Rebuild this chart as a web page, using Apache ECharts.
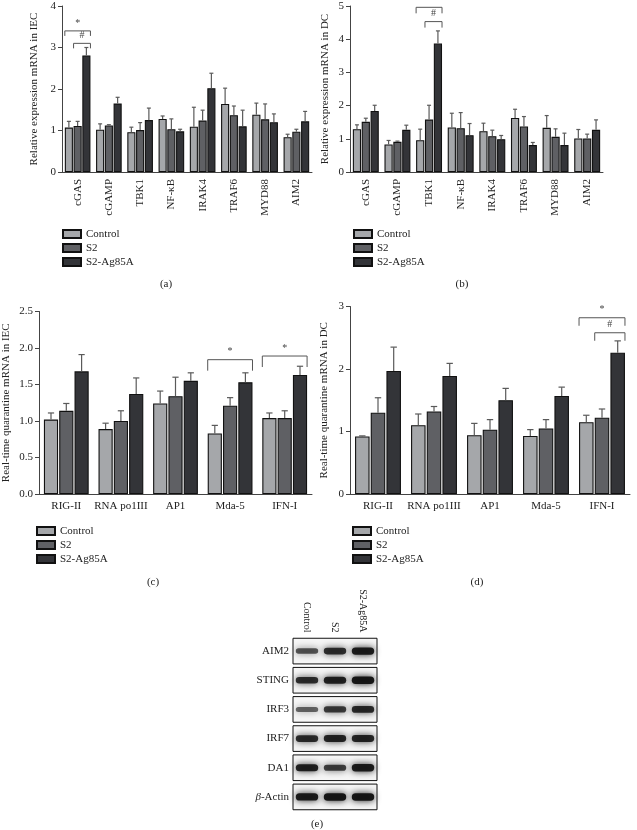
<!DOCTYPE html>
<html><head><meta charset="utf-8">
<script src="https://cdn.jsdelivr.net/npm/echarts@6/dist/echarts.min.js"></script>
<style>html,body{margin:0;padding:0;background:#fff}#c{width:637px;height:830px}</style>
</head><body><div id="c"></div>
<script>
// ---------- DATA ----------
const groupNames = ['Control', 'S2', 'S2-Ag85A'];

// (a) IEC
const catsA = ['cGAS', 'cGAMP', 'TBK1', 'NF-κB', 'IRAK4', 'TRAF6', 'MYD88', 'AIM2'];
const ctrlA = [1.07, 1.02, 0.96, 1.28, 1.09, 1.64, 1.38, 0.84];
const s2A   = [1.11, 1.12, 1.01, 1.03, 1.24, 1.37, 1.27, 0.97];
const agA   = [2.81, 1.65, 1.25, 0.98, 2.02, 1.10, 1.20, 1.22];
const ctrlAErr = [1.22, 1.16, 1.08, 1.35, 1.56, 2.02, 1.66, 0.91];
const s2AErr   = [1.22, 1.14, 1.19, 1.28, 1.49, 1.59, 1.64, 1.03];
const agAErr   = [3.00, 1.80, 1.54, 1.03, 2.38, 1.49, 1.40, 1.46];
const sigA = [[0, 0, 2, 3.40, '*'], [0, 1, 2, 3.10, '#']];
const ticksA = [0, 1, 2, 3, 4];

// (b) DC
const catsB = ['cGAS', 'cGAMP', 'TBK1', 'NF-κB', 'IRAK4', 'TRAF6', 'MYD88', 'AIM2'];
const ctrlB = [1.29, 0.83, 0.96, 1.34, 1.23, 1.63, 1.33, 1.01];
const s2B   = [1.51, 0.91, 1.58, 1.32, 1.08, 1.37, 1.06, 1.01];
const agB   = [1.84, 1.27, 3.87, 1.11, 0.99, 0.81, 0.81, 1.27];
const ctrlBErr = [1.42, 0.95, 1.29, 1.77, 1.47, 1.89, 1.70, 1.28];
const s2BErr   = [1.62, 0.93, 2.01, 1.79, 1.26, 1.67, 1.30, 1.14];
const agBErr   = [2.01, 1.41, 4.25, 1.46, 1.10, 0.89, 1.17, 1.57];
const sigB = [[2, 0, 2, 4.96, '*'], [2, 1, 2, 4.53, '#']];
const ticksB = [0, 1, 2, 3, 4, 5];

// (c) IEC
const catsC = ['RIG-II', 'RNA po1III', 'AP1', 'Mda-5', 'IFN-I'];
const ctrlC = [1.02, 0.89, 1.24, 0.83, 1.04];
const s2C   = [1.14, 1.00, 1.34, 1.21, 1.04];
const agC   = [1.68, 1.37, 1.55, 1.53, 1.63];
const ctrlCErr = [1.11, 0.97, 1.41, 0.94, 1.11];
const s2CErr   = [1.24, 1.14, 1.60, 1.32, 1.14];
const agCErr   = [1.91, 1.59, 1.66, 1.66, 1.75];
const sigC = [[3, 0, 2, 1.84, '*'], [4, 0, 2, 1.89, '*']];
const ticksC = [0, 0.5, 1.0, 1.5, 2.0, 2.5];

// (d) DC
const catsD = ['RIG-II', 'RNA po1III', 'AP1', 'Mda-5', 'IFN-I'];
const ctrlD = [0.92, 1.10, 0.94, 0.93, 1.15];
const s2D   = [1.30, 1.32, 1.03, 1.05, 1.22];
const agD   = [1.97, 1.89, 1.50, 1.57, 2.26];
const ctrlDErr = [0.93, 1.28, 1.13, 1.03, 1.26];
const s2DErr   = [1.54, 1.40, 1.19, 1.19, 1.36];
const agDErr   = [2.35, 2.09, 1.69, 1.71, 2.45];
const sigD = [[4, 0, 2, 2.82, '*'], [4, 1, 2, 2.58, '#']];
const ticksD = [0, 1, 2, 3];

// (e) Western blot: relative band intensity per lane
const blotProteins = ['AIM2', 'STING', 'IRF3', 'IRF7', 'DA1', 'β-Actin'];
const blotLanes = ['Control', 'S2', 'S2-Ag85A'];
const bandAIM2  = [0.55, 0.80, 0.95];
const bandSTING = [0.80, 0.90, 1.00];
const bandIRF3  = [0.45, 0.72, 0.85];
const bandIRF7  = [0.82, 0.88, 0.88];
const bandDA1   = [0.90, 0.70, 0.95];
const bandActin = [0.95, 1.00, 1.00];

// ---------- STYLE ----------
const FONT = 'Liberation Serif';
const COLORS = ['#a5a7aa', '#5f6064', '#333438'];
const CAT_GAP = 0.18, BAR_GAP = 0.08;
const AXIS_COLOR = '#444';

function barGeom(api, cat, idx) {
  const B = api.size([1, 0])[0];
  const avail = B * (1 - CAT_GAP);
  const w = avail / (3 + 2 * BAR_GAP);
  const c = api.coord([cat, 0])[0];
  return { x: c - avail / 2 + idx * w * (1 + BAR_GAP) + w / 2, w: w };
}

const panels = [
  { cats: catsA, vals: [ctrlA, s2A, agA], errs: [ctrlAErr, s2AErr, agAErr], sig: sigA, ticks: ticksA, rotate: true,
    grid: { left: 62, top: 6, width: 250, height: 166 }, name: 'Relative expression mRNA in IEC', nameGap: 22, leg: 5, dec: 0 },
  { cats: catsB, vals: [ctrlB, s2B, agB], errs: [ctrlBErr, s2BErr, agBErr], sig: sigB, ticks: ticksB, rotate: true,
    grid: { left: 350, top: 6, width: 253, height: 166 }, name: 'Relative expression mRNA in DC', nameGap: 19, leg: 6, dec: 0 },
  { cats: catsC, vals: [ctrlC, s2C, agC], errs: [ctrlCErr, s2CErr, agCErr], sig: sigC, ticks: ticksC, rotate: false,
    grid: { left: 35, top: 311.5, width: 277, height: 182.5 }, name: 'Real-time quarantine mRNA in IEC', nameGap: 27, leg: 11, dec: 1 },
  { cats: catsD, vals: [ctrlD, s2D, agD], errs: [ctrlDErr, s2DErr, agDErr], sig: sigD, ticks: ticksD, rotate: false,
    grid: { left: 350, top: 306.5, width: 280, height: 187.5 }, name: 'Real-time quarantine mRNA in DC', nameGap: 20, leg: 8, dec: 0 }
];

const grids = [], xAxes = [], yAxes = [], series = [];
panels.forEach((p, pi) => {
  grids.push(Object.assign({ containLabel: false }, p.grid));
  xAxes.push({
    type: 'category', gridIndex: pi, data: p.cats,
    axisLine: { lineStyle: { color: AXIS_COLOR, width: 1 } },
    axisTick: { alignWithLabel: true, length: 4, lineStyle: { color: AXIS_COLOR } },
    axisLabel: { interval: 0, rotate: p.rotate ? 90 : 0, margin: 7, fontFamily: FONT, fontSize: 11, color: '#222' }
  });
  const tk = p.ticks;
  yAxes.push({
    type: 'value', gridIndex: pi, min: tk[0], max: tk[tk.length - 1], interval: tk[1] - tk[0],
    name: p.name, nameLocation: 'middle', nameGap: p.nameGap,
    nameTextStyle: { fontFamily: FONT, fontSize: 11, color: '#222' },
    axisLine: { show: true, lineStyle: { color: AXIS_COLOR, width: 1 } },
    axisTick: { show: true, length: 4, lineStyle: { color: AXIS_COLOR } },
    axisLabel: { margin: 6, fontFamily: FONT, fontSize: 11, color: '#222', formatter: v => v.toFixed(p.dec) },
    splitLine: { show: false }
  });
  p.vals.forEach((arr, k) => {
    series.push({
      type: 'bar', name: groupNames[k], xAxisIndex: pi, yAxisIndex: pi, data: arr,
      barGap: (BAR_GAP * 100) + '%', barCategoryGap: (CAT_GAP * 100) + '%',
      itemStyle: { color: COLORS[k], borderColor: '#111', borderWidth: 1.1 },
      emphasis: { disabled: true }
    });
  });
  // error bars
  const errData = [];
  p.cats.forEach((c, i) => { for (let k = 0; k < 3; k++) errData.push([i, k, p.vals[k][i], p.errs[k][i]]); });
  series.push({
    type: 'custom', name: 'err' + pi, xAxisIndex: pi, yAxisIndex: pi, data: errData, silent: true, z: 3,
    encode: { x: 0, y: 3 },
    renderItem: function (params, api) {
      const g = barGeom(api, api.value(0), api.value(1));
      const y0 = api.coord([0, api.value(2)])[1];
      const y1 = api.coord([0, api.value(3)])[1];
      const cap = Math.max(2, g.w * 0.22);
      return {
        type: 'group', children: [
          { type: 'line', shape: { x1: g.x, y1: y0, x2: g.x, y2: y1 }, style: { stroke: '#5a5a5a', lineWidth: 1.2 } },
          { type: 'line', shape: { x1: g.x - cap, y1: y1, x2: g.x + cap, y2: y1 }, style: { stroke: '#5a5a5a', lineWidth: 1.2 } }
        ]
      };
    }
  });
  // significance brackets
  const sig = p.sig;
  series.push({
    type: 'custom', name: 'sig' + pi, xAxisIndex: pi, yAxisIndex: pi, silent: true, z: 4,
    data: sig.map(s => [s[0], s[1], s[2], s[3]]), encode: { x: 0, y: 3 }, clip: false,
    renderItem: function (params, api) {
      const a = barGeom(api, api.value(0), api.value(1));
      const b = barGeom(api, api.value(0), api.value(2));
      const x1 = a.x - a.w / 2, x2 = b.x + b.w / 2;
      const y = api.coord([0, api.value(3)])[1];
      return {
        type: 'group', children: [
          { type: 'polyline', shape: { points: [[x1, y + p.leg], [x1, y], [x2, y], [x2, y + p.leg]] }, style: { stroke: '#555', lineWidth: 1, fill: null } },
          { type: 'text', x: (x1 + x2) / 2, y: y - 3, style: { text: sig[params.dataIndex][4], fontFamily: FONT, fontSize: 10, fill: '#444', align: 'center', verticalAlign: 'bottom' } }
        ]
      };
    }
  });
});

// Western blot grid
const bandRows = [bandAIM2, bandSTING, bandIRF3, bandIRF7, bandDA1, bandActin];
const blotData = [];
bandRows.forEach((row, r) => row.forEach((v, l) => blotData.push([l, r, v])));
const gi = grids.length;
grids.push({ left: 293, top: 636.5, width: 84, height: 175 });
xAxes.push({
  type: 'category', gridIndex: gi, data: blotLanes, position: 'top',
  axisLine: { show: false }, axisTick: { show: false },
  axisLabel: { interval: 0, rotate: 90, margin: 4, fontFamily: FONT, fontSize: 10, color: '#222' }
});
yAxes.push({
  type: 'category', gridIndex: gi, data: blotProteins, inverse: true,
  axisLine: { show: false }, axisTick: { show: false },
  axisLabel: {
    interval: 0, margin: 4, fontFamily: FONT, fontSize: 11, color: '#222',
    formatter: v => v.indexOf('β') === 0 ? '{i|β}' + v.slice(1) : v,
    rich: { i: { fontFamily: FONT, fontSize: 11, fontStyle: 'italic', color: '#222' } }
  }
});
series.push({
  type: 'custom', name: 'blot', xAxisIndex: gi, yAxisIndex: gi, data: blotData, silent: true,
  encode: { x: 0, y: 1 },
  renderItem: function (params, api) {
    const lane = api.value(0), row = api.value(1), v = api.value(2);
    const c = api.coord([lane, row]);
    const sz = api.size([1, 1]);
    const cs = params.coordSys;
    const children = [];
    const bh = sz[1] * 0.88;
    if (lane === 0) {
      children.push({ type: 'rect', shape: { x: cs.x, y: c[1] - bh / 2, width: cs.width, height: bh },
        style: { fill: '#f6f6f6', stroke: '#111', lineWidth: 1 } });
    }
    const h = 3 + 4.5 * v;
    const w = sz[0] * 0.8;
    children.push({ type: 'rect', shape: { x: c[0] - w / 2, y: c[1] - h / 2, width: w, height: h, r: h / 2 },
      style: { fill: 'rgba(15,15,15,' + (0.3 + 0.65 * v).toFixed(2) + ')', shadowBlur: 7, shadowColor: 'rgba(0,0,0,' + (0.35 + 0.6 * v).toFixed(2) + ')' } });
    return { type: 'group', children: children };
  }
});

const legendBase = {
  orient: 'vertical', itemWidth: 18, itemHeight: 8, itemGap: 2, icon: 'rect',
  data: groupNames, selectedMode: false,
  textStyle: { fontFamily: FONT, fontSize: 11, color: '#222', lineHeight: 12, padding: [0, 0, 0, 0] },
  padding: 0
};
const legends = [
  Object.assign({}, legendBase, { left: 62, top: 228 }),
  Object.assign({}, legendBase, { left: 353, top: 228 }),
  Object.assign({}, legendBase, { left: 36, top: 525 }),
  Object.assign({}, legendBase, { left: 352, top: 525 })
];

const labelStyle = { fontFamily: FONT, fontSize: 11, fill: '#222', align: 'center', verticalAlign: 'middle' };
const graphic = [
  { type: 'text', x: 166, y: 284, style: Object.assign({ text: '(a)' }, labelStyle) },
  { type: 'text', x: 462, y: 284, style: Object.assign({ text: '(b)' }, labelStyle) },
  { type: 'text', x: 153, y: 582, style: Object.assign({ text: '(c)' }, labelStyle) },
  { type: 'text', x: 477, y: 582, style: Object.assign({ text: '(d)' }, labelStyle) },
  { type: 'text', x: 317, y: 824, style: Object.assign({ text: '(e)' }, labelStyle) }
];

const chart = echarts.init(document.getElementById('c'), null, { renderer: 'canvas' });
chart.setOption({
  animation: false,
  backgroundColor: '#fff',
  grid: grids, xAxis: xAxes, yAxis: yAxes, series: series, legend: legends, graphic: graphic
});
</script></body></html>
